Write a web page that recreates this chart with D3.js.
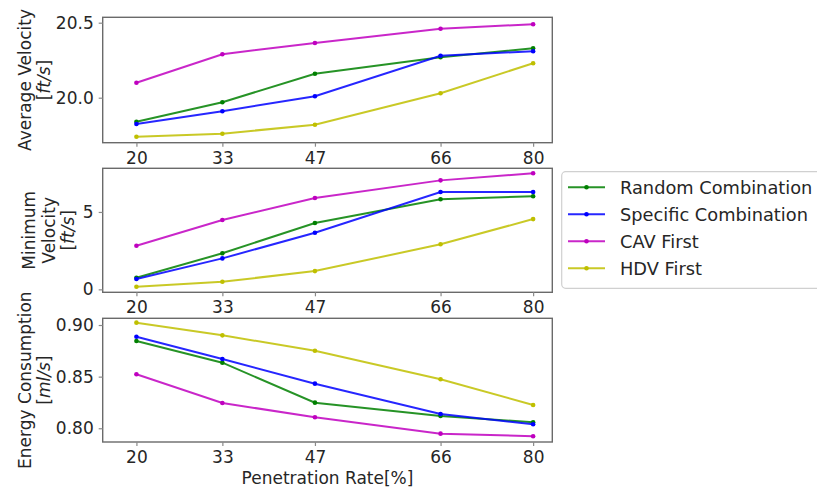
<!DOCTYPE html>
<html>
<head>
<meta charset="utf-8">
<script src="https://cdn.jsdelivr.net/npm/d3@7"></script>
<style>
  body { margin: 0; background: #fff; }
  svg text { font-family: "DejaVu Sans", sans-serif; fill: #262626; }
</style>
</head>
<body>
<svg id="chart" width="817" height="487"></svg>
<script>
// penetration rates on the x axis
const rates = [20, 33, 47, 66, 80];
const seriesNames = ["Random Combination", "Specific Combination", "CAV First", "HDV First"];
const seriesColors = ["#008000", "#0000ff", "#bf00bf", "#bfbf00"];

// one row per series, same order as seriesNames
const avgVelocity = [
  [19.84, 19.97, 20.16, 20.27, 20.33],
  [19.825, 19.91, 20.01, 20.28, 20.31],
  [20.10, 20.29, 20.365, 20.46, 20.49],
  [19.74, 19.76, 19.82, 20.03, 20.23]
];
const minVelocity = [
  [0.75, 2.33, 4.29, 5.82, 6.01],
  [0.67, 2.00, 3.66, 6.29, 6.29],
  [2.82, 4.48, 5.90, 7.04, 7.50],
  [0.17, 0.49, 1.18, 2.91, 4.54]
];
const energy = [
  [0.8845, 0.8635, 0.8248, 0.8119, 0.8058],
  [0.8887, 0.8671, 0.8432, 0.8138, 0.8039],
  [0.8523, 0.8245, 0.8106, 0.7948, 0.7923],
  [0.9023, 0.8900, 0.8751, 0.8474, 0.8226]
];

const avgTicks = [20.0, 20.5];
const minTicks = [0, 5];
const energyTicks = [0.80, 0.85, 0.90];

const svg = d3.select('#chart');
const left = 102.7, right = 552.3;
const fs = 17;

const x = d3.scaleLinear().domain([14.9, 82.9]).range([left, right]);

const panels = [
  {data: avgVelocity, top: 17.3, bottom: 142.7, domain: [19.70, 20.536], ticks: avgTicks, fmt: d3.format('.1f'),
   label: [["Average Velocity"], ["[", "ft/s", "]"]], labelX: [30.5, 50]},
  {data: minVelocity, top: 168.3, bottom: 292.3, domain: [-0.19, 7.82], ticks: minTicks, fmt: d3.format('d'),
   label: [["Minimum"], ["Velocity"], ["[", "ft/s", "]"]], labelX: [35, 54.5, 74]},
  {data: energy, top: 318.3, bottom: 442, domain: [0.7867, 0.9065], ticks: energyTicks, fmt: d3.format('.2f'),
   label: [["Energy Consumption"], ["[", "ml/s", "]"]], labelX: [30.5, 50]}
];

const line = d3.line();

panels.forEach(p => {
  const y = d3.scaleLinear().domain(p.domain).range([p.bottom, p.top]);
  const g = svg.append('g');

  // series
  p.data.forEach((vals, i) => {
    const pts = vals.map((v, j) => [x(rates[j]), y(v)]);
    g.append('path')
      .attr('d', line(pts))
      .attr('fill', 'none')
      .attr('stroke', seriesColors[i])
      .attr('stroke-width', 2)
      .attr('stroke-opacity', 0.85);
    g.selectAll(null).data(pts).enter().append('circle')
      .attr('cx', d => d[0]).attr('cy', d => d[1])
      .attr('r', 2.3)
      .attr('fill', seriesColors[i]);
  });

  // frame
  g.append('rect')
    .attr('x', left).attr('y', p.top)
    .attr('width', right - left).attr('height', p.bottom - p.top)
    .attr('fill', 'none').attr('stroke', '#6a6a6a').attr('stroke-width', 1.4);

  // x axis
  const xAxis = d3.axisBottom(x).tickValues(rates).tickSize(4).tickPadding(5).tickFormat(d3.format('d'));
  const xg = g.append('g').attr('transform', `translate(0,${p.bottom})`).call(xAxis);
  xg.select('.domain').remove();
  xg.selectAll('line').attr('stroke', '#8a8a8a').attr('stroke-width', 1.2);
  xg.selectAll('text').attr('font-size', fs).attr('font-family', 'DejaVu Sans').attr('fill', '#262626');

  // y axis
  const yAxis = d3.axisLeft(y).tickValues(p.ticks).tickSize(4).tickPadding(5).tickFormat(p.fmt);
  const yg = g.append('g').attr('transform', `translate(${left},0)`).call(yAxis);
  yg.select('.domain').remove();
  yg.selectAll('line').attr('stroke', '#8a8a8a').attr('stroke-width', 1.2);
  yg.selectAll('text').attr('font-size', fs).attr('font-family', 'DejaVu Sans').attr('fill', '#262626');

  // y label (rotated, multi-line)
  const cy = (p.top + p.bottom) / 2;
  p.label.forEach((parts, k) => {
    const t = g.append('text')
      .attr('transform', `translate(${p.labelX[k]},${cy}) rotate(-90)`)
      .attr('text-anchor', 'middle')
      .attr('font-size', fs);
    parts.forEach((s, m) => {
      t.append('tspan').text(s).attr('font-style', m === 1 ? 'italic' : null);
    });
  });
});

// x axis title
svg.append('text')
  .attr('x', (left + right) / 2).attr('y', 484)
  .attr('text-anchor', 'middle')
  .attr('font-size', fs)
  .text('Penetration Rate[%]');

// legend
const leg = svg.append('g');
leg.append('rect')
  .attr('x', 561.7).attr('y', 171.7)
  .attr('width', 280).attr('height', 116.6)
  .attr('rx', 4)
  .attr('fill', '#fff').attr('stroke', '#d0d0d0').attr('stroke-width', 1.2);
const rowY = d3.scaleLinear().domain([0, 3]).range([187.3, 268.3]);
seriesNames.forEach((name, i) => {
  const yy = rowY(i);
  leg.append('line').attr('x1', 568).attr('x2', 605).attr('y1', yy).attr('y2', yy)
    .attr('stroke', seriesColors[i]).attr('stroke-width', 2).attr('stroke-opacity', 0.85);
  leg.append('circle').attr('cx', 586.5).attr('cy', yy).attr('r', 2.3).attr('fill', seriesColors[i]);
  leg.append('text').attr('x', 620).attr('y', yy + 6.5).attr('font-size', 17.8).text(name);
});
</script>
</body>
</html>
